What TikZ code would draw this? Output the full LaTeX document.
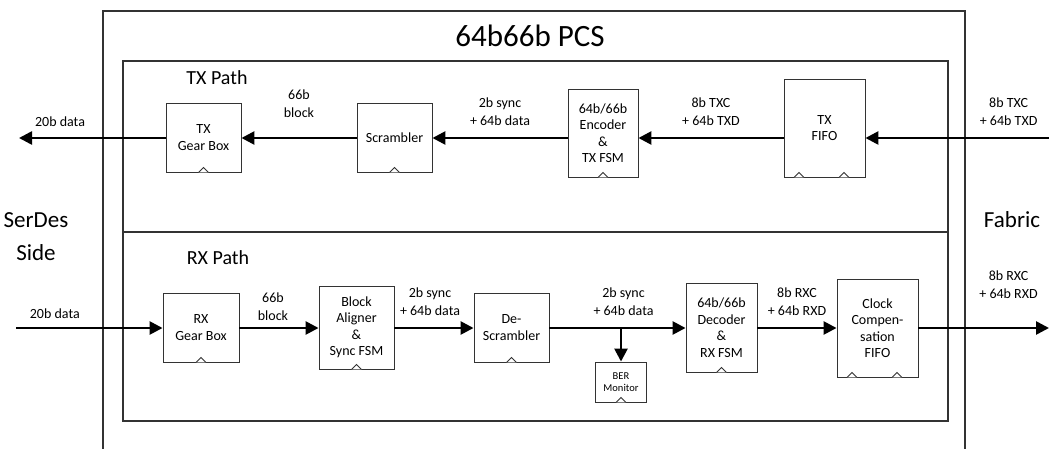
\documentclass[tikz,border=0pt]{standalone}
\usepackage{fontspec}
\setmainfont{Carlito}
\usetikzlibrary{arrows.meta,positioning}

\tikzset{
  blk/.style={draw=black!80, line width=0.9pt, fill=white, align=center,
    inner sep=0pt, font=\fontsize{14}{16.5}\selectfont},
  sig/.style={line width=2.6pt, -{Triangle[length=13pt,width=13pt]}},
  lbl/.style={align=center, above=8pt, font=\fontsize{14}{17.5}\selectfont},
  clk/.style={draw=black!80, line width=0.8pt, fill=white},
  frame/.style={draw=black!80, line width=1.2pt},
}
\newcommand{\clkmark}[2][0]{\draw[clk] ([xshift=#1pt-5pt]#2.south) -- ++(5,-5) -- ++(5,5);}

\begin{document}
\begin{tikzpicture}[x=1pt,y=-1pt]
  \useasboundingbox (0,0) rectangle (1049,449);
  % PCS frame and the two paths
  \draw[frame] (103,449) -- (103,11) -- (965,11) -- (965,449);
  \draw[frame] (123,61) rectangle (948,421);
  \draw[frame] (123,232) -- (948,232);

  \node[font=\fontsize{31}{36}\selectfont] (title) at (530,36) {64b66b PCS};
  \node[font=\fontsize{20}{24}\selectfont] (txpath) at (217,78) {TX Path};
  \node[font=\fontsize{20}{24}\selectfont] (rxpath) at (218,258) {RX Path};
  \node[font=\fontsize{23}{33}\selectfont, align=center] (serdes) at (36,237) {SerDes\\Side};
  \node[font=\fontsize{23}{28}\selectfont] (fabric) at (1012,220) {Fabric};

  % TX path
  \node[blk, minimum width=75, minimum height=69] (txgb) at (203.5,137.5) {TX\\Gear Box};
  \node[blk, minimum width=75, minimum height=69] (scr) at (394.5,137.5) {Scrambler};
  \node[blk, minimum width=70, minimum height=88] (enc) at (603,133) {64b/66b\\Encoder\\\&\\TX FSM};
  \node[blk, minimum width=81, minimum height=98] (txfifo) at (824.5,128) {TX\\FIFO};

  % RX path
  \node[blk, minimum width=76, minimum height=69] (rxgb) at (201,327.5) {RX\\Gear Box};
  \node[blk, minimum width=75, minimum height=83] (aligner) at (356.5,327.5) {Block\\Aligner\\\&\\Sync FSM};
  \node[blk, minimum width=75, minimum height=69] (descr) at (511.5,327.5) {De-\\Scrambler};
  \node[blk, minimum width=71, minimum height=89] (dec) at (721.5,327.5) {64b/66b\\Decoder\\\&\\RX FSM};
  \node[blk, minimum width=81, minimum height=98] (ccfifo) at (877.5,328) {Clock\\Compen-\\sation\\FIFO};
  \node[blk, minimum width=51, minimum height=40, font=\fontsize{10.5}{11.5}\selectfont] (ber) at (621,382) {BER\\Monitor};

  \foreach \n in {txgb,scr,enc,rxgb,aligner,descr,dec,ber} \clkmark{\n};
  \foreach \n in {txfifo,ccfifo} {\clkmark[-25.5]{\n} \clkmark[19.5]{\n}}

  \coordinate (txin) at (1049,138);
  \coordinate (txout) at (19,138);
  \coordinate (rxin) at (16,328);
  \coordinate (rxout) at (1049,328);
  \coordinate (tap) at (621,328);

  \path[sig]
    (txin) edge node[lbl, pos=0.22] {8b TXC\\+ 64b TXD} (txfifo.east |- txin)
    (txfifo.west |- txin) edge node[lbl] {8b TXC\\+ 64b TXD} (enc.east |- txin)
    (enc.west |- txin) edge node[lbl] {2b sync\\+ 64b data} (scr.east |- txin)
    (scr.west |- txin) edge node[lbl, above=16pt] {66b\\block} (txgb.east |- txin)
    (txgb.west |- txin) edge node[lbl, pos=0.72, above=7pt] {20b data} (txout);
  \path[sig]
    (rxin) edge node[lbl, pos=0.265, above=5pt] {20b data} (rxgb.west |- rxin)
    (rxgb.east |- rxin) edge node[lbl, above=3pt, xshift=-6pt] {66b\\block} (aligner.west |- rxin)
    (aligner.east |- rxin) edge node[lbl, xshift=-4pt] {2b sync\\+ 64b data} (descr.west |- rxin)
    (descr.east |- rxin) edge node[lbl, xshift=6pt] {2b sync\\+ 64b data} (dec.west |- rxin)
    (dec.east |- rxin) edge node[lbl] {8b RXC\\+ 64b RXD} (ccfifo.west |- rxin)
    (ccfifo.east |- rxin) edge node[lbl, pos=0.69, above=25pt] {8b RXC\\+ 64b RXD} (rxout)
    (tap) edge (ber.north);
\end{tikzpicture}
\end{document}
